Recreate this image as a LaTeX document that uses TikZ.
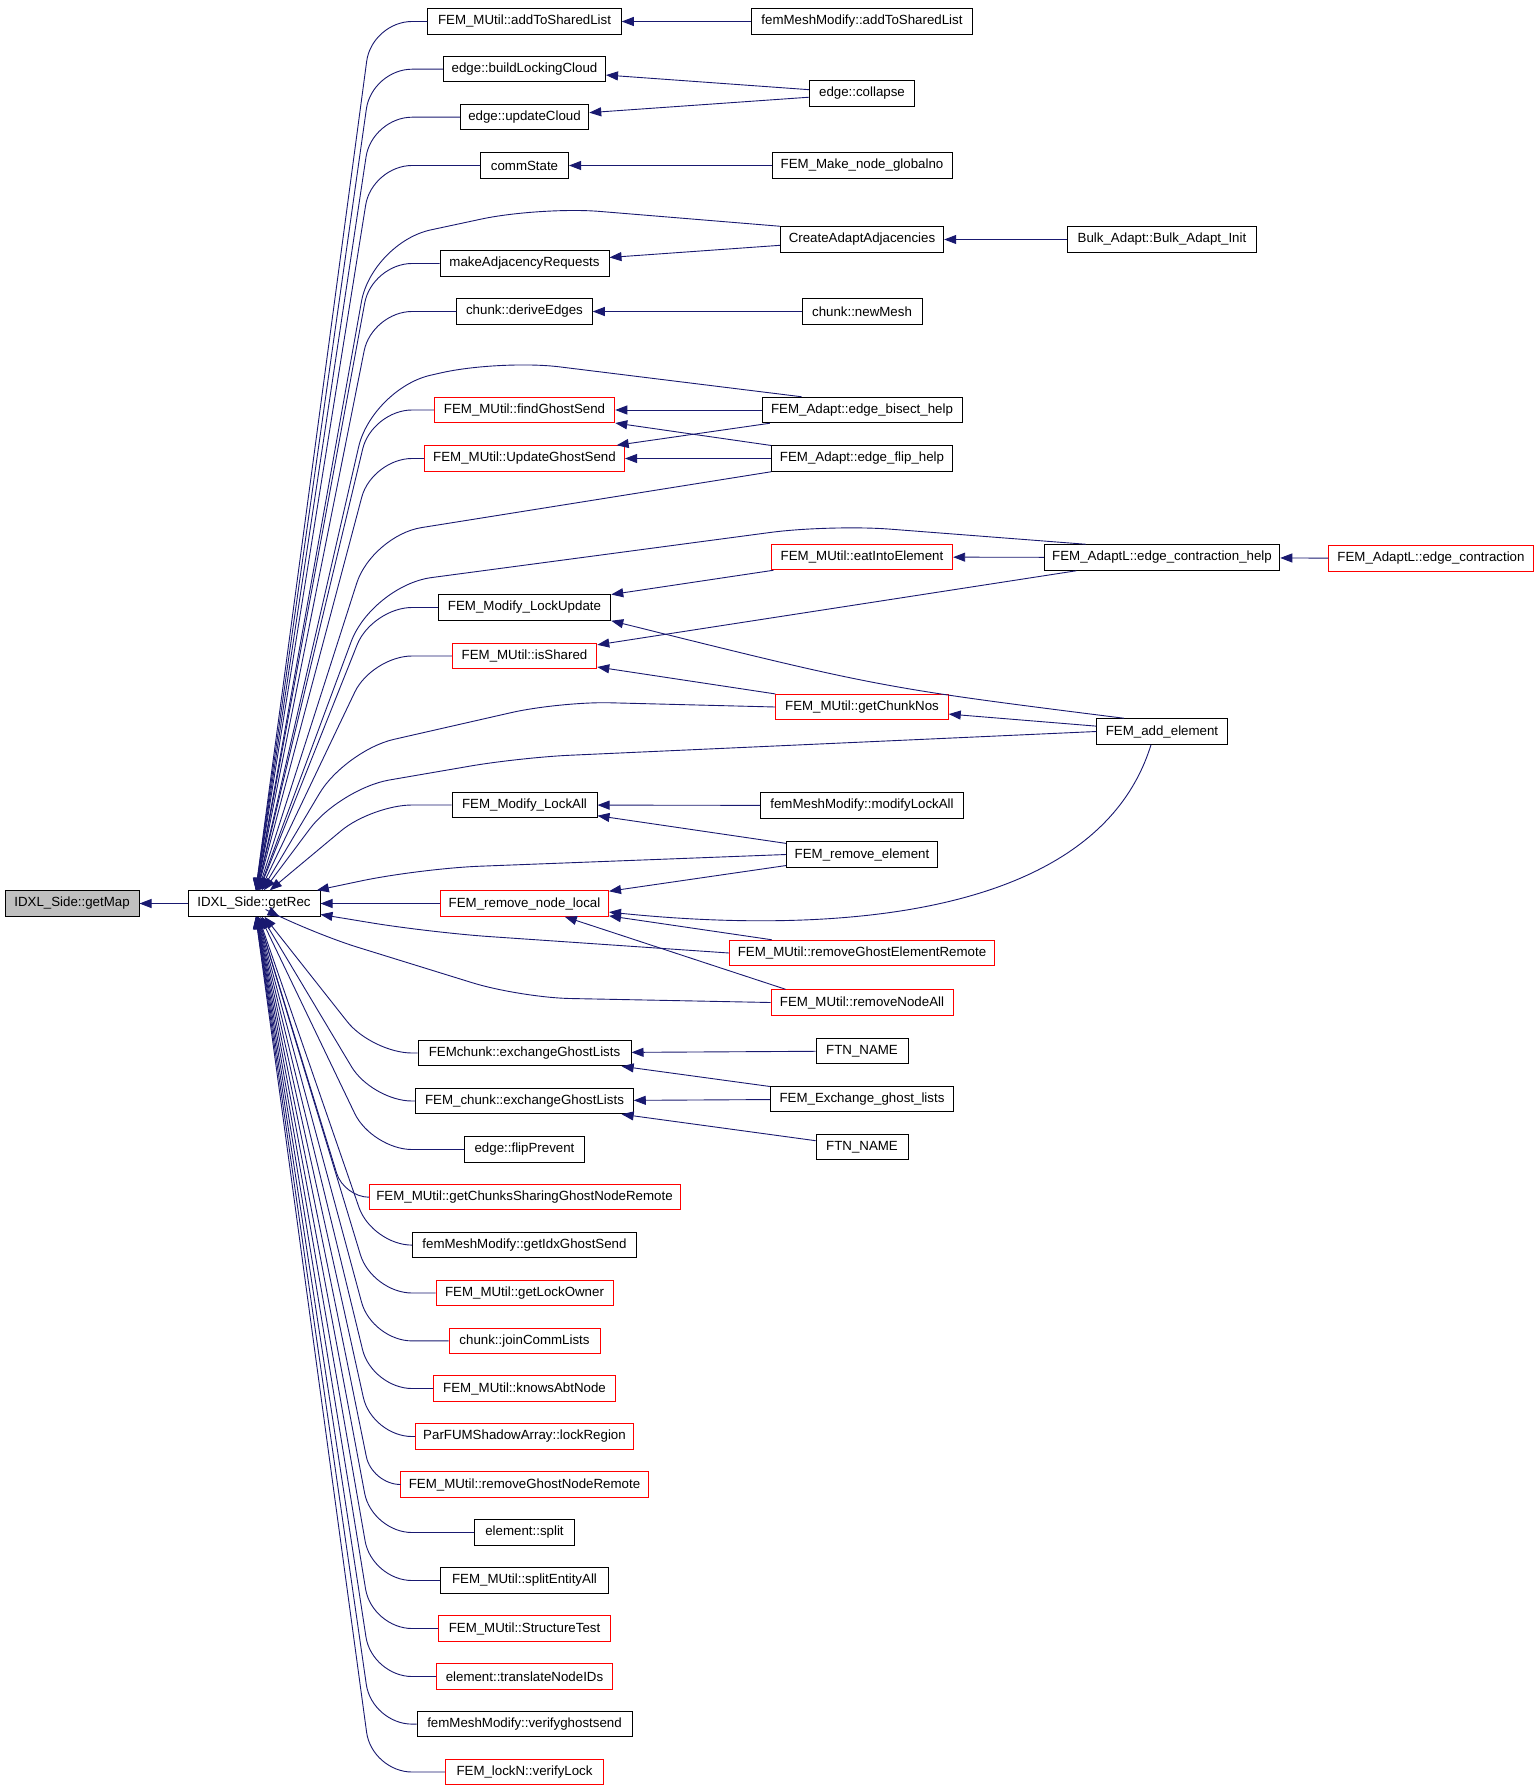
\documentclass[tikz,border=0pt]{standalone}
\usepackage{fontspec}
\setmainfont{Liberation Sans}
\usetikzlibrary{arrows,arrows.meta,calc}
\definecolor{edgeblue}{HTML}{191970}
\definecolor{boxgray}{HTML}{BFBFBF}

\begin{document}
\begin{tikzpicture}[x=1pt,y=-1pt,
    fn/.style={draw,rectangle,fill=white,inner sep=0pt,minimum height=25.5pt,
      line width=1pt,font=\fontsize{13.3}{16}\selectfont},
    call/.style={draw=edgeblue,line width=0.9pt,-{Triangle[length=12pt,width=9pt]}}]
  \newcommand{\colx}{524.5}
  \newcommand{\coly}{862}
  \newcommand{\colz}{1162}
  \path[use as bounding box,fill=white] (0,-2.5) rectangle (1539,1784.5);

  \node[fn,fill=boxgray,minimum width=134pt] (map) at (72,901) {IDXL\_Side::getMap};
  \node[fn,minimum width=132pt] (rec) at (254,901) {IDXL\_Side::getRec};
  \draw[call] (rec) -- (map);

  % direct callers of getRec
  \foreach \id/\lbl/\y/\w/\col in {
      atsl/FEM\_MUtil::addToSharedList/19/193.5/black,
      blc/edge::buildLockingCloud/66.7/162/black,
      uc/edge::updateCloud/114.7/128.5/black,
      comm/commState/163/88/black,
      mar/makeAdjacencyRequests/261/169/black,
      de/chunk::deriveEdges/309/135.5/black,
      fgs/FEM\_MUtil::findGhostSend/407.5/180.5/red,
      ugs/FEM\_MUtil::UpdateGhostSend/456/200/red,
      lu/FEM\_Modify\_LockUpdate/605/172.5/black,
      shared/FEM\_MUtil::isShared/653.5/144.5/red,
      lockall/FEM\_Modify\_LockAll/802.5/145/black,
      rnl/FEM\_remove\_node\_local/901/168/red,
      fcx/FEMchunk::exchangeGhostLists/1050.5/213/black,
      fcux/FEM\_chunk::exchangeGhostLists/1098.5/217.5/black,
      flipp/edge::flipPrevent/1147/120/black,
      gcsr/FEM\_MUtil::getChunksSharingGhostNodeRemote/1194.7/311/red,
      igs/femMeshModify::getIdxGhostSend/1242.6/224/black,
      glo/FEM\_MUtil::getLockOwner/1290.5/177/red,
      jcl/chunk::joinCommLists/1338.4/151/red,
      kan/FEM\_MUtil::knowsAbtNode/1386/182/red,
      lreg/ParFUMShadowArray::lockRegion/1434/218/red,
      rgnr/FEM\_MUtil::removeGhostNodeRemote/1482/248/red,
      split/element::split/1530/100/black,
      sea/FEM\_MUtil::splitEntityAll/1578/168/black,
      stest/FEM\_MUtil::StructureTest/1626/172/red,
      tnid/element::translateNodeIDs/1674/176/red,
      vgs/femMeshModify::verifyghostsend/1721.6/215/black,
      vlock/FEM\_lockN::verifyLock/1769.5/158/red}
  {
    \node[fn,draw=\col,minimum width=\w pt] (\id) at (\colx,\y) {\lbl};
    \pgfmathsetmacro\kx{min(372,\colx-\w/2-25)}
    \pgfmathsetmacro\rad{min(40,\colx-\w/2-\kx)}
    \draw[call,rounded corners=\rad pt] (\id.west) -- (\kx,\y) -- (rec);
  }

  % second level
  \foreach \id/\lbl/\y/\w/\col in {
      fmatsl/femMeshModify::addToSharedList/19/221/black,
      collapse/edge::collapse/91/105.4/black,
      fmng/FEM\_Make\_node\_globalno/163/180/black,
      caa/CreateAdaptAdjacencies/237/163.4/black,
      newmesh/chunk::newMesh/309/120/black,
      bisect/FEM\_Adapt::edge\_bisect\_help/407.5/200/black,
      flip/FEM\_Adapt::edge\_flip\_help/456/180.6/black,
      eat/FEM\_MUtil::eatIntoElement/554.5/181.3/red,
      gcn/FEM\_MUtil::getChunkNos/704.5/172.5/red,
      mla/femMeshModify::modifyLockAll/803/203/black,
      re/FEM\_remove\_element/852/151/black,
      rger/FEM\_MUtil::removeGhostElementRemote/950.5/265/red,
      rna/FEM\_MUtil::removeNodeAll/1000/182/red,
      ftna/FTN\_NAME/1048.5/92/black,
      feg/FEM\_Exchange\_ghost\_lists/1096.5/183.5/black,
      ftnb/FTN\_NAME/1144.5/92/black}
    \node[fn,draw=\col,minimum width=\w pt] (\id) at (\coly,\y) {\lbl};

  \node[fn,minimum width=189pt] (bulk) at (\colz,237) {Bulk\_Adapt::Bulk\_Adapt\_Init};
  \node[fn,minimum width=235.5pt] (ech) at (\colz,555) {FEM\_AdaptL::edge\_contraction\_help};
  \node[fn,minimum width=130.5pt] (add) at (\colz,729) {FEM\_add\_element};
  \node[fn,draw=red,minimum width=204.5pt] (ec) at (1431,556) {FEM\_AdaptL::edge\_contraction};

  \foreach \a/\b in {fmatsl/atsl,collapse/blc,collapse/uc,fmng/comm,caa/mar,bulk/caa,
      newmesh/de,bisect/fgs,bisect/ugs,flip/fgs,flip/ugs,eat/lu,ech/eat,ec/ech,
      ech/shared,gcn/shared,add/gcn,mla/lockall,re/lockall,re/rnl,rger/rnl,
      ftna/fcx,feg/fcx,feg/fcux,ftnb/fcux}
    \draw[call] (\a) -- (\b);
  \draw[call] ([xshift=15pt]rna.north west) -- (rnl);
  \draw[call] ([xshift=-38pt]add.north) .. controls (880,685) .. (lu.south east);
  \draw[call] ([xshift=-11pt]add.south) .. controls (1090,940) and (760,925) .. (rnl);

  % long ones back to getRec
  \draw[call,rounded corners=60pt] (caa.north west) -- (540,204) -- (372,240) -- (rec);
  \draw[call,rounded corners=60pt] ([xshift=40pt]bisect.north west) -- (500,357) -- (372,386) -- (rec);
  \draw[call,rounded corners=50pt] (flip.south west) -- (372,533) -- (rec);
  \draw[call,rounded corners=60pt] ([xshift=42pt]ech.north west) -- (830,522) -- (372,583) -- (rec);
  \draw[call,rounded corners=50pt] (gcn.west) -- (560,699) -- (345,748) -- (rec);
  \draw[call,rounded corners=50pt] (add.west) -- (520,755) -- (340,786) -- (rec);
  \draw[call,rounded corners=60pt] (re.west) -- (420,866) -- (rec);
  \draw[call,rounded corners=60pt] (rger.west) -- (430,930) -- (rec);
  \draw[call,rounded corners=50pt] (rna.west) -- (520,995) -- (310,930) -- (rec);
\end{tikzpicture}
\end{document}
